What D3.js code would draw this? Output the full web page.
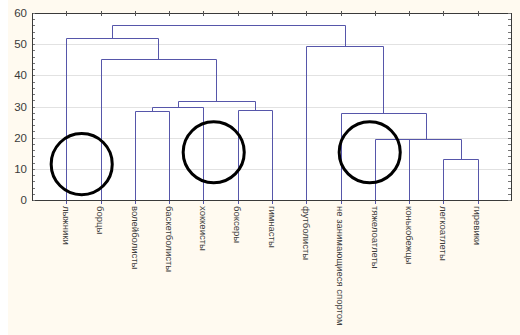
<!DOCTYPE html>
<html>
<head>
<meta charset="utf-8">
<script src="https://cdn.jsdelivr.net/npm/d3@7"></script>
<style>
  body { margin: 0; background: #ffffff; }
  svg { display: block; }
</style>
</head>
<body>
<div id="chart"></div>
<script>
const leaves = [
  "лыжники", "борцы", "волейболисты", "баскетболисты", "хоккеисты",
  "боксеры", "гимнасты", "футболисты", "не занимающиеся спортом",
  "тяжелоатлеты", "конькобежцы", "легкоатлеты", "гиревики",
];
// each merge joins two nodes (leaf index or 13 + merge index) at a linkage distance
const mergeLeft = [2, 13, 5, 14, 1, 0, 11, 9, 20, 8, 7, 18];
const mergeRight = [3, 4, 6, 15, 16, 17, 12, 10, 19, 21, 22, 23];
const mergeHeight = [28.7, 29.7, 29.0, 31.9, 45.3, 51.9, 13.0, 19.6, 19.7, 27.8, 49.5, 56.1];
const yTicks = [0, 10, 20, 30, 40, 50, 60];
// highlighted groups: centre (leaf position, distance) and radius in distance units
const ringX = [0.45, 4.3, 8.85];
const ringY = [11.5, 15.3, 15.3];
const ringR = 9.8;

const w = 520;
const h = 335;
const plotL = 32, plotR = 512, plotT = 13, plotB = 200;
const lineColor = "#5656aa";

const svg = d3.select("#chart").append("svg").attr("width", w).attr("height", h);

svg.append("rect")
  .attr("x", 8).attr("y", 0).attr("width", w - 8).attr("height", h)
  .attr("fill", "#fffaf0");

svg.append("rect")
  .attr("x", plotL).attr("y", plotT).attr("width", plotR - plotL).attr("height", plotB - plotT)
  .attr("fill", "#ffffff");

const x = d3.scaleLinear().domain([-1, leaves.length]).range([plotL, plotR]);
const y = d3.scaleLinear().domain([0, 60]).range([plotB, plotT]);

// grid
svg.append("g")
  .selectAll("line")
  .data(yTicks.slice(1, -1))
  .join("line")
  .attr("x1", plotL).attr("x2", plotR)
  .attr("y1", (d) => Math.round(y(d)) + 0.5).attr("y2", (d) => Math.round(y(d)) + 0.5)
  .attr("stroke", "#e2e2e2");

// node positions
const nodes = leaves.map((d, i) => ({ x: i, y: 0 }));
const links = [];
mergeLeft.forEach((a, k) => {
  const b = mergeRight[k];
  const hgt = mergeHeight[k];
  links.push({ a: nodes[a], b: nodes[b], h: hgt });
  nodes.push({ x: (nodes[a].x + nodes[b].x) / 2, y: hgt });
});

const px = (v) => Math.round(x(v)) + 0.5;
const py = (v) => Math.round(y(v)) + 0.5;

svg.append("g")
  .selectAll("path")
  .data(links)
  .join("path")
  .attr("d", (d) =>
    `M${px(d.a.x)},${py(d.a.y)}V${py(d.h)}H${px(d.b.x)}V${py(d.b.y)}`)
  .attr("fill", "none")
  .attr("stroke", lineColor)
  .attr("stroke-width", 1);

// leaf ticks below the axis
svg.append("g")
  .selectAll("line")
  .data(leaves)
  .join("line")
  .attr("x1", (d, i) => px(i)).attr("x2", (d, i) => px(i))
  .attr("y1", plotB).attr("y2", plotB + 4)
  .attr("stroke", lineColor);

// frame
svg.append("rect")
  .attr("x", plotL + 0.5).attr("y", plotT + 0.5)
  .attr("width", plotR - plotL - 1).attr("height", plotB - plotT)
  .attr("fill", "none")
  .attr("stroke", "#3a3a3a");

// top ticks
svg.append("g")
  .selectAll("line")
  .data(leaves)
  .join("line")
  .attr("x1", (d, i) => px(i)).attr("x2", (d, i) => px(i))
  .attr("y1", plotT - 2).attr("y2", plotT + 3)
  .attr("stroke", "#555");

// minor ticks left and right
const minor = d3.range(0, 61, 2);
svg.append("g")
  .selectAll("line")
  .data(minor)
  .join("line")
  .attr("x1", plotL + 1).attr("x2", plotL + 3)
  .attr("y1", (d) => py(d)).attr("y2", (d) => py(d))
  .attr("stroke", "#777");
svg.append("g")
  .selectAll("line")
  .data(minor)
  .join("line")
  .attr("x1", plotR - 4).attr("x2", plotR - 1)
  .attr("y1", (d) => py(d)).attr("y2", (d) => py(d))
  .attr("stroke", "#777");

// y labels
svg.append("g")
  .selectAll("text")
  .data(yTicks)
  .join("text")
  .attr("x", plotL - 5)
  .attr("y", (d) => y(d))
  .attr("dy", "0.36em")
  .attr("text-anchor", "end")
  .attr("font-family", "Liberation Sans, Arial, sans-serif")
  .attr("font-size", 11.5)
  .attr("fill", "#3a3a3a")
  .text((d) => d);

// leaf labels
svg.append("g")
  .selectAll("text")
  .data(leaves)
  .join("text")
  .attr("transform", (d, i) => `translate(${x(i)},${plotB + 6}) rotate(90)`)
  .attr("dy", "0.35em")
  .attr("font-family", "Liberation Sans, Arial, sans-serif")
  .attr("font-size", 9.5)
  .attr("fill", "#3c3c3c")
  .text((d) => d);

// rings around groups
svg.append("g")
  .selectAll("circle")
  .data(ringX)
  .join("circle")
  .attr("cx", (d) => x(d))
  .attr("cy", (d, i) => y(ringY[i]))
  .attr("r", y(0) - y(ringR))
  .attr("fill", "none")
  .attr("stroke", "#000")
  .attr("stroke-width", 3);
</script>
</body>
</html>
